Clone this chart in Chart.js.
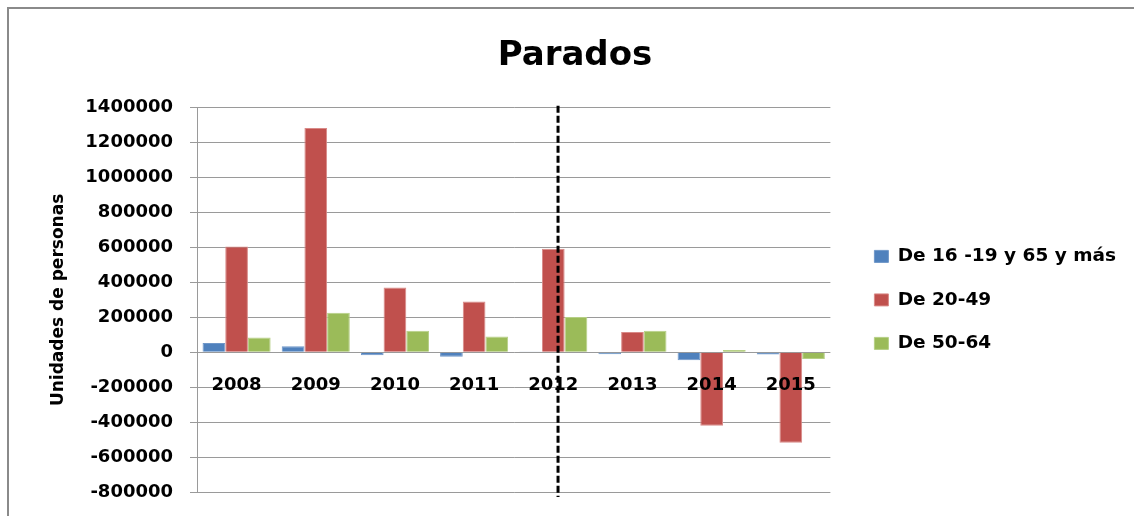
<!DOCTYPE html>
<html>
<head>
<meta charset="utf-8">
<script src="https://cdn.jsdelivr.net/npm/chart.js@4.4.1/dist/chart.umd.min.js"></script>
<style>
  html, body { margin: 0; padding: 0; background: #fff; overflow: hidden; }
  #wrap { position: relative; width: 1134px; height: 516px; }
  #frame { position: absolute; left: 7px; top: 7px; right: 0; bottom: 0;
           border-top: 2px solid #8a8a8a; border-left: 2px solid #8a8a8a; pointer-events: none; }
</style>
</head>
<body>
<div id="wrap">
  <canvas id="chart" width="1134" height="516"></canvas>
  <div id="frame"></div>
</div>
<script>
const years = ["2008", "2009", "2010", "2011", "2012", "2013", "2014", "2015"];
const jovenesMayores = [53000, 34000, -17000, -25000, 1000, -11000, -46000, -13000];
const de20a49 = [606000, 1284000, 371000, 291000, 593000, 116000, -421000, -518000];
const de50a64 = [84000, 227000, 124000, 91000, 202000, 124000, 13000, -38000];
const yMin = -800000, yMax = 1400000, yStep = 200000;
const dividerAt = 4.06; // linea discontinua en 2012

Chart.defaults.font.family = "'DejaVu Sans', sans-serif";
Chart.defaults.font.weight = "bold";
Chart.defaults.color = "#000";

const divider = {
  id: "divider",
  afterDatasetsDraw(chart) {
    const { ctx, chartArea, scales } = chart;
    const x = scales.x.getPixelForValue(dividerAt);
    ctx.save();
    ctx.strokeStyle = "#000";
    ctx.lineWidth = 3;
    ctx.setLineDash([7, 3]);
    ctx.beginPath();
    ctx.moveTo(x, chartArea.top - 2);
    ctx.lineTo(x, chartArea.bottom + 5);
    ctx.stroke();
    ctx.restore();
  }
};

new Chart(document.getElementById("chart"), {
  type: "bar",
  data: {
    labels: years,
    datasets: [
      { label: "De 16 -19 y 65 y más", data: jovenesMayores, backgroundColor: "#4F81BD", borderColor: "#6f97c9", borderWidth: 1 },
      { label: "De 20-49", data: de20a49, backgroundColor: "#C0504D", borderColor: "#d98a88", borderWidth: 1 },
      { label: "De 50-64", data: de50a64, backgroundColor: "#9BBB59", borderColor: "#b6cf86", borderWidth: 1 }
    ]
  },
  options: {
    responsive: false,
    animation: false,
    layout: { padding: { top: 0, left: 24, right: 8, bottom: 24 } },
    datasets: { bar: { categoryPercentage: 0.86, barPercentage: 1 } },
    plugins: {
      title: {
        display: true,
        text: "Parados",
        font: { size: 34, weight: "bold" },
        color: "#000",
        padding: { top: 36, bottom: 31 }
      },
      legend: {
        position: "right",
        fullSize: false,
        maxWidth: 320,
        labels: { boxWidth: 14, boxHeight: 12, padding: 25, font: { size: 18.5, weight: "bold" }, color: "#000" }
      },
      tooltip: { enabled: false }
    },
    scales: {
      x: {
        position: { y: 0 },
        grid: { display: false, drawTicks: false },
        border: { display: false },
        ticks: { z: 1, padding: 22, font: { size: 18, weight: "bold" }, color: "#000", maxRotation: 0 },
        afterFit(s) { s.height = 0; }
      },
      y: {
        min: yMin, max: yMax,
        ticks: { stepSize: yStep, padding: 17, font: { size: 18, weight: "bold" }, color: "#000",
                 callback: v => String(v) },
        grid: { color: "#9a9a9a", lineWidth: 1, tickLength: 7 },
        border: { color: "#9a9a9a" },
        title: { display: true, text: "Unidades de personas", font: { size: 17, weight: "bold" }, color: "#000",
                 padding: { top: 24 } },
        afterFit(s) { s.width = 173; s.paddingTop = 0; s.paddingBottom = 0; }
      },
      gap: {
        type: "linear", position: "right", display: true,
        grid: { display: false }, border: { display: false }, ticks: { display: false },
        afterFit(s) { s.width = 19; }
      }
    }
  },
  plugins: [divider]
});
</script>
</body>
</html>
